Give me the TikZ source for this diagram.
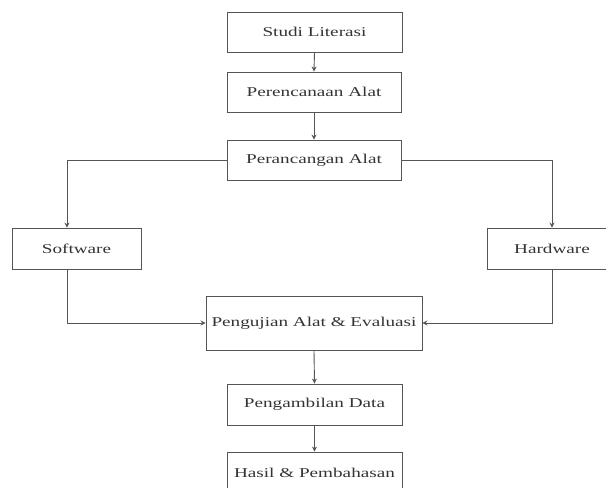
\documentclass[tikz,border=0pt]{standalone}
\usepackage{fontspec}
\setmainfont[FakeStretch=1.42]{Liberation Serif}
\usetikzlibrary{arrows.meta}
\definecolor{linegray}{HTML}{555555}
\definecolor{textgray}{HTML}{333333}
\begin{document}
\begin{tikzpicture}[x=1pt,y=-1pt,
  box/.style={draw=linegray,line width=0.9pt,fill=white,inner sep=0pt,
    text=textgray,font=\fontsize{13.5}{15}\selectfont},
  conn/.style={draw=linegray,line width=0.9pt,-{Stealth[length=5pt,width=5pt]}}]
\useasboundingbox (0,0) rectangle (606,488);
\clip (0,0) rectangle (606,488);
\node[box,minimum width=175pt,minimum height=40pt] (s1) at (314.5,32) {Studi Literasi};
\node[box,minimum width=174pt,minimum height=40pt] (s2) at (314,92) {Perencanaan Alat};
\node[box,minimum width=174pt,minimum height=40pt] (s3) at (314,160) {Perancangan Alat};
\node[box,minimum width=129pt,minimum height=41pt] (sw) at (76.5,248.5) {Software};
\node[box,minimum width=130pt,minimum height=41pt] (hw) at (552,248.5) {Hardware};
\node[box,minimum width=216pt,minimum height=54pt] (pu) at (314,323) {Pengujian Alat \& Evaluasi};
\node[box,minimum width=175pt,minimum height=41pt] (pd) at (314.5,404.5) {Pengambilan Data};
\node[box,minimum width=175pt,minimum height=41pt] (hp) at (314.5,472.5) {Hasil \& Pembahasan};
\coordinate (swl) at (67,160);
\coordinate (hwr) at (552,160);
\coordinate (swb) at (67,323);
\coordinate (hwb) at (552,323);
\draw[conn] (s1.south) -- (s2.north);
\draw[conn] (s2.south) -- (s3.north);
\draw[conn] (s3.west) -- (swl) -- (swl |- sw.north);
\draw[conn] (s3.east) -- (hwr) -- (hw.north);
\draw[conn] (swl |- sw.south) -- (swb) -- (pu.west);
\draw[conn] (hw.south) -- (hwb) -- (pu.east);
\draw[conn] (pu.south) -- (pd.north);
\draw[conn] (pd.south) -- (hp.north);
\end{tikzpicture}
\end{document}
